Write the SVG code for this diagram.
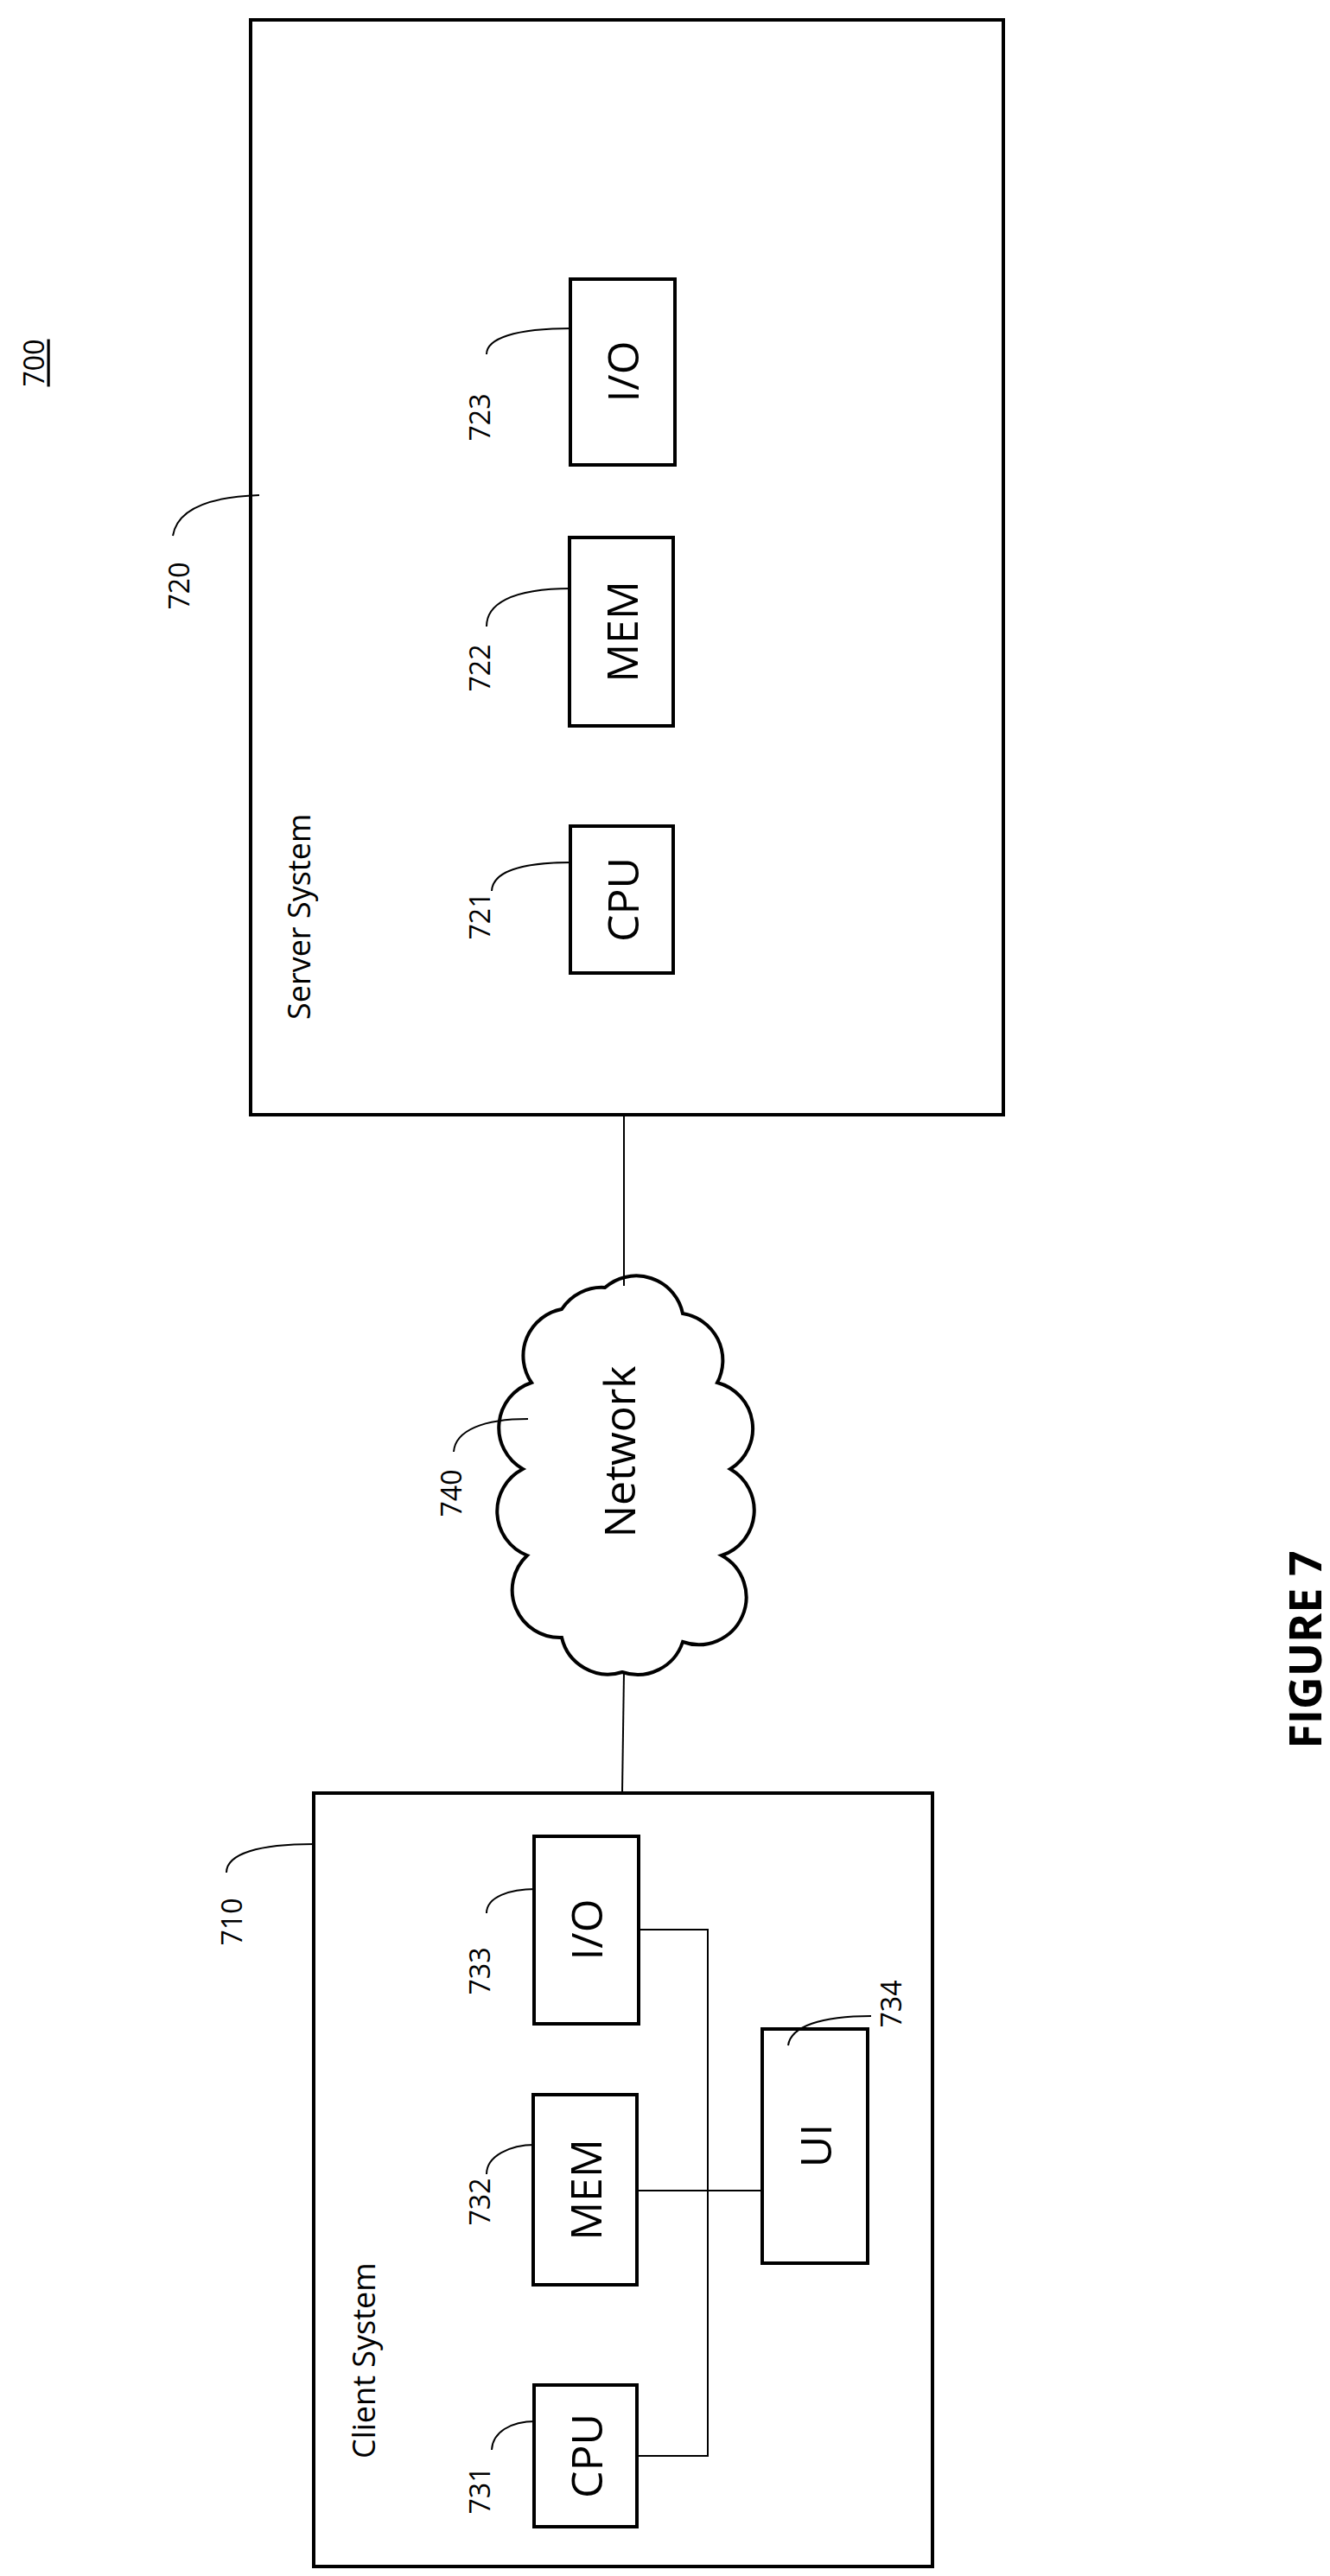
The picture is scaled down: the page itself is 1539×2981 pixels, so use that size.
<svg xmlns="http://www.w3.org/2000/svg" width="1539" height="2981" viewBox="0 0 1539 2981">
<style>
.b{fill:#fff;stroke:#000;stroke-width:4}
.l{fill:none;stroke:#000;stroke-width:2}
text{font-family:"Open Sans","Liberation Sans",sans-serif;fill:#000;text-anchor:middle;dominant-baseline:central}
.big{font-size:50px}
.num{font-size:32px}
.sys{font-size:36px;text-anchor:start}
</style>
<rect width="1539" height="2981" fill="#fff"/>
<g id="fig-label"><text class="num" transform="translate(38,420) rotate(-90)" text-decoration="underline">700</text>
<text transform="translate(1508,1909) rotate(-90)" style="font-size:52px;font-weight:bold">FIGURE 7</text></g>
<g id="server">
<rect class="b" x="290" y="23" width="871" height="1267"/>
<text class="sys" transform="translate(345,1180) rotate(-90)">Server System</text>
<path class="l" d="M200,620 C205,590 240,575 300,573"/>
<text class="num" transform="translate(206,678) rotate(-90)">720</text>
</g>
<g id="s-cpu"><rect class="b" x="660" y="956" width="119" height="170"/><text class="big" transform="translate(720,1041) rotate(-90)">CPU</text>
<path class="l" d="M569,1031 C570,1010 600,998 662,998"/><text class="num" transform="translate(554,1060) rotate(-90)">721</text></g>
<g id="s-mem"><rect class="b" x="659" y="622" width="120" height="218"/><text class="big" transform="translate(719,731) rotate(-90)">MEM</text>
<path class="l" d="M563,725 C563,700 590,681 661,681"/><text class="num" transform="translate(554,773) rotate(-90)">722</text></g>
<g id="s-io"><rect class="b" x="660" y="323" width="121" height="215"/><text class="big" transform="translate(720,430) rotate(-90)">I/O</text>
<path class="l" d="M563,410 C563,392 595,380 662,380"/><text class="num" transform="translate(554,483) rotate(-90)">723</text></g>
<g id="network">
<path class="b" stroke-width="3" d="M700,1490 A55,55 0 0 1 790,1520 A55,55 0 0 1 830,1600 A55,55 0 0 1 845,1700 A55,55 0 0 1 835,1800 A55,55 0 0 1 790,1900 A55,55 0 0 1 720,1935 A55,55 0 0 1 650,1895 A55,55 0 0 1 610,1800 A55,55 0 0 1 605,1700 A55,55 0 0 1 615,1600 A55,55 0 0 1 650,1515 A55,55 0 0 1 700,1490 Z"/>
<text class="big" transform="translate(716,1680) rotate(-90)">Network</text>
<path class="l" d="M525,1680 C527,1655 560,1642 611,1642"/><text class="num" transform="translate(521,1728) rotate(-90)">740</text>
</g>
<g id="client">
<rect class="b" x="363" y="2075" width="716" height="895"/>
<text class="sys" transform="translate(420,2845) rotate(-90)">Client System</text>
<path class="l" d="M262,2167 C262,2145 300,2134 363,2134"/><text class="num" transform="translate(267,2224) rotate(-90)">710</text>
</g>
<g id="c-cpu"><rect class="b" x="618" y="2760" width="119" height="164"/><text class="big" transform="translate(678,2842) rotate(-90)">CPU</text>
<path class="l" d="M569,2835 C570,2815 590,2802 620,2802"/><text class="num" transform="translate(554,2882) rotate(-90)">731</text></g>
<g id="c-mem"><rect class="b" x="617" y="2424" width="120" height="220"/><text class="big" transform="translate(677,2534) rotate(-90)">MEM</text>
<path class="l" d="M563,2516 C563,2495 590,2482 619,2482"/><text class="num" transform="translate(554,2548) rotate(-90)">732</text></g>
<g id="c-io"><rect class="b" x="618" y="2125" width="121" height="217"/><text class="big" transform="translate(678,2233) rotate(-90)">I/O</text>
<path class="l" d="M563,2214 C563,2195 590,2186 620,2186"/><text class="num" transform="translate(554,2281) rotate(-90)">733</text></g>
<g id="c-ui"><rect class="b" x="882" y="2348" width="122" height="271"/><text class="big" transform="translate(943,2483) rotate(-90)">UI</text>
<path class="l" d="M912,2367 C915,2345 950,2333 1008,2333"/><text class="num" transform="translate(1030,2319) rotate(-90)">734</text></g>
<g id="connectors">
<path class="l" d="M722,1290 L722,1488"/>
<path class="l" d="M722,1935 L720,2075"/>
<path class="l" d="M739,2233 L819,2233 L819,2842 L737,2842"/>
<path class="l" d="M737,2535 L882,2535"/>
</g>
</svg>
